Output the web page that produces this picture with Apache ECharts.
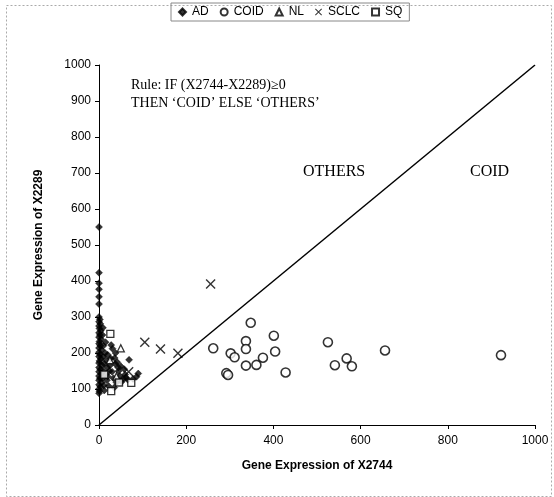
<!DOCTYPE html>
<html><head><meta charset="utf-8">
<script src="https://cdn.jsdelivr.net/npm/echarts@6/dist/echarts.min.js"></script>
<style>html,body{margin:0;padding:0;background:#fff}#c{width:554px;height:497px}</style>
</head><body><div id="c"></div>
<script>
// ---- data ----
const seriesNames = ['AD', 'COID', 'NL', 'SCLC', 'SQ'];
const xTicks = [0, 200, 400, 600, 800, 1000];
const yTicks = [0, 100, 200, 300, 400, 500, 600, 700, 800, 900, 1000];
const AD = [
  [0,550],[0,423],[0,394],[0,377],[0,356],[0,336],
  [0,300],[2,293],[0,287],[3,281],[0,275],[1,268],[4,262],[0,256],[2,250],[0,244],[5,238],[1,232],
  [0,226],[3,220],[0,214],[6,208],[0,202],[2,196],[0,190],[4,184],[1,178],[0,172],[7,166],[0,160],
  [3,154],[0,148],[5,142],[0,136],[2,130],[0,124],[6,118],[0,112],[3,106],[0,100],[1,94],[0,88],
  [8,250],[10,220],[9,190],[12,170],[10,150],[8,130],[11,110],[14,200],[15,140],
  [28,222],[31,212],[20,195],[36,186],[42,174],[25,165],[50,163],[45,150],[30,148],[60,140],
  [55,128],[18,124],[40,118],[66,126],[69,181],[90,143],[86,134],[78,128],[22,108],[35,104],
  [48,136],[58,155],[38,200],[16,180],[24,150],[33,130],[12,96],[19,160],[27,185],[44,160],
  [52,120],[62,132],[15,230],[9,270],[20,135],[37,170]
];
const COID = [
  [348,284],[337,233],[337,211],[401,248],[404,204],[376,187],[361,167],[337,165],[428,146],
  [525,230],[541,166],[568,185],[580,163],[656,207],[922,194],
  [262,213],[302,199],[311,188],[292,144],[296,139]
];
const NL = [[50,213],[25,180],[40,135]];
const SCLC = [[256,392],[105,230],[141,211],[181,199],[68,148]];
const SQ = [[26,253],[74,117],[28,94],[46,118],[12,140]];
const ruleLine = [[0,0],[1000,1000]];
const ruleText1 = 'Rule: IF (X2744-X2289)\u22650';
const ruleText2 = 'THEN \u2018COID\u2019 ELSE \u2018OTHERS\u2019';
const labelOthers = 'OTHERS';
const labelCoid = 'COID';
const xName = 'Gene Expression of X2744';
const yName = 'Gene Expression of X2289';

// ---- chart ----
const crossPath = 'path://M0,1L1,0L5,4L9,0L10,1L6,5L10,9L9,10L5,6L1,10L0,9L4,5Z';
const chart = echarts.init(document.getElementById('c'), null, {renderer: 'canvas'});
const sans = 'Liberation Sans, Arial, sans-serif';
const serif = 'Liberation Serif, Times New Roman, serif';
chart.setOption({
  backgroundColor: '#fff',
  animation: false,
  textStyle: {fontFamily: sans},
  grid: {left: 99, right: 19, top: 65, bottom: 72, containLabel: false},
  legend: {
    top: 3, left: 171, data: seriesNames,
    itemWidth: 7, itemHeight: 7, itemGap: 11,
    borderColor: '#888', borderWidth: 1, padding: [3, 7],
    textStyle: {fontFamily: sans, fontSize: 12, color: '#000', padding: [0, 0, 0, 1]}
  },
  xAxis: {
    type: 'value', min: 0, max: 1000, interval: 200,
    name: xName, nameLocation: 'middle', nameGap: 35,
    nameTextStyle: {fontFamily: sans, fontSize: 12, fontWeight: 'bold', color: '#000'},
    axisLine: {show: true, lineStyle: {color: '#000', width: 1}},
    axisTick: {show: true, inside: false, length: 4, lineStyle: {color: '#000'}},
    axisLabel: {fontFamily: sans, fontSize: 12, color: '#000', margin: 10,
      formatter: v => xTicks.includes(v) ? String(v) : ''},
    splitLine: {show: false}
  },
  yAxis: {
    type: 'value', min: 0, max: 1000, interval: 100,
    name: yName, nameLocation: 'middle', nameGap: 54,
    nameTextStyle: {fontFamily: sans, fontSize: 12, fontWeight: 'bold', color: '#000'},
    axisLine: {show: true, lineStyle: {color: '#000', width: 1}},
    axisTick: {show: true, length: 4, lineStyle: {color: '#000'}},
    axisLabel: {fontFamily: sans, fontSize: 12, color: '#000', margin: 8,
      formatter: v => yTicks.includes(v) ? String(v) : ''},
    splitLine: {show: false}
  },
  series: [
    {name: 'rule', type: 'line', data: ruleLine, showSymbol: false, symbol: 'none',
      lineStyle: {color: '#000', width: 1.5}, silent: true, z: 1},
    {name: 'AD', type: 'scatter', data: AD, symbol: 'diamond', symbolSize: 7,
      itemStyle: {color: '#000', borderColor: '#000', borderWidth: 0.5}},
    {name: 'COID', type: 'scatter', data: COID, symbol: 'circle', symbolSize: 9,
      itemStyle: {color: '#fff', borderColor: '#000', borderWidth: 1.6}},
    {name: 'NL', type: 'scatter', data: NL, symbol: 'triangle', symbolSize: 7,
      itemStyle: {color: '#fff', borderColor: '#000', borderWidth: 1.3}},
    {name: 'SCLC', type: 'scatter', data: SCLC, symbol: crossPath, symbolSize: 10,
      itemStyle: {color: '#000'}},
    {name: 'SQ', type: 'scatter', data: SQ, symbol: 'rect', symbolSize: 7,
      itemStyle: {color: '#fff', borderColor: '#000', borderWidth: 1.3}}
  ],
  graphic: [
    {type: 'rect', left: 4, top: 3, shape: {width: 545, height: 491},
      style: {fill: 'none', stroke: '#aaa', lineWidth: 1, lineDash: [2, 2]}, silent: true, z: -1},
    {type: 'text', left: 131, top: 78, style: {text: ruleText1, font: '14px ' + serif, fill: '#000'}},
    {type: 'text', left: 131, top: 96, style: {text: ruleText2, font: '14px ' + serif, fill: '#000'}},
    {type: 'text', left: 303, top: 164, style: {text: labelOthers, font: '16px ' + serif, fill: '#000'}},
    {type: 'text', left: 470, top: 164, style: {text: labelCoid, font: '16px ' + serif, fill: '#000'}}
  ]
});
</script></body></html>
